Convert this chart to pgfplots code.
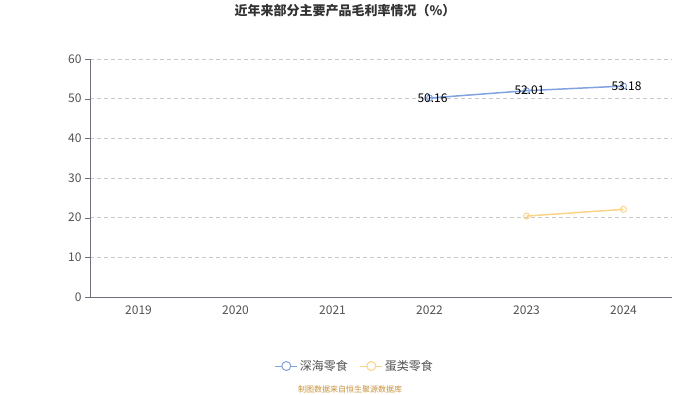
\documentclass[border=0pt]{standalone}
\usepackage{pgfplots}
\pgfplotsset{compat=1.18}
\usepackage{fontspec}
\setmainfont{Noto Sans CJK SC}
\definecolor{blueL}{RGB}{128,162,222}
\definecolor{yellowL}{RGB}{250,212,135}
\definecolor{gridc}{RGB}{200,200,200}
\definecolor{axisc}{RGB}{110,112,121}
\definecolor{srcc}{RGB}{196,146,60}
\definecolor{txtc}{RGB}{51,51,51}
\begin{document}
\begin{tikzpicture}
\path[use as bounding box] (0pt,0pt) rectangle (700pt,394pt);
\node[font=\fontsize{13}{15}\selectfont\bfseries, text=txtc] at (345pt,383pt) {近年来部分主要产品毛利率情况（\%）};
\begin{axis}[
  at={(90pt,97pt)}, anchor=south west,
  scale only axis, width=582pt, height=238pt,
  xmin=-0.5, xmax=5.5, ymin=0, ymax=60,
  ytick={0,10,...,60},
  xtick={0,...,5},
  xticklabels={2019,2020,2021,2022,2023,2024},
  extra x ticks={-0.5,0.5,1.5,2.5,3.5,4.5,5.5},
  extra x tick labels={},
  extra x tick style={major tick length=5pt, tick style={axisc}, grid=none},
  axis lines*=left,
  axis line style={axisc},
  x tick style={draw=none},
  y tick style={axisc},
  major tick length=5pt,
  tick align=outside,
  ymajorgrids,
  grid style={gridc, dash pattern=on 4pt off 3pt},
  tick label style={font=\fontsize{12}{14}\selectfont, text=txtc!85},
  /pgf/number format/assume math mode=true,
  clip=false,
  legend style={at={(0.455,-0.29)}, anchor=center, draw=none, legend columns=2,
    font=\fontsize{12}{14}\selectfont, text=txtc!85,
    /tikz/every even column/.append style={column sep=10pt}},
  legend cell align=left,
  legend image code/.code={
    \draw[#1, line width=1pt, mark=none] (0pt,0pt) -- (22pt,0pt);
    \draw[#1, line width=1pt, fill=white, mark=none] (11pt,0pt) circle (4.5pt);
  },
]
\addplot[blueL, line width=1.5pt, mark=o, mark size=3pt, mark options={fill=white, line width=1pt},
  nodes near coords, point meta=explicit symbolic,
  every node near coord/.append style={font=\fontsize{12}{14}\selectfont, text=black, anchor=center, xshift=3pt, yshift=0pt}]
  coordinates {(3,50.16)[50.16] (4,52.01)[52.01] (5,53.18)[53.18]};
\addlegendentry{深海零食}
\addplot[yellowL, line width=1.5pt, mark=o, mark size=3pt, mark options={fill=white, line width=1pt}]
  coordinates {(4,20.4) (5,22.1)};
\addlegendentry{蛋类零食}
\end{axis}
\node[font=\fontsize{8}{10}\selectfont, text=srcc] at (350pt,5pt) {制图数据来自恒生聚源数据库};
\end{tikzpicture}
\end{document}
